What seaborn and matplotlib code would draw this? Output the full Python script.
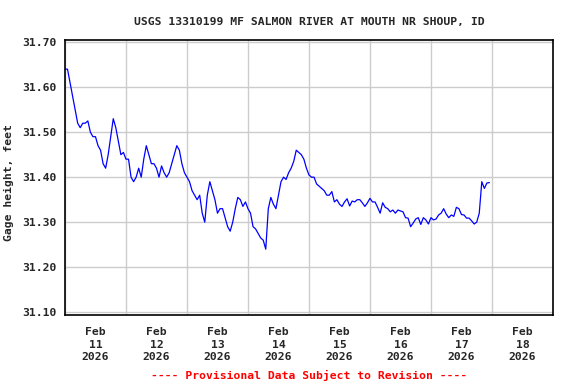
import pandas as pd
import matplotlib
matplotlib.use('Agg')
import matplotlib.pyplot as plt
import matplotlib.dates as mdates
import seaborn as sns

# hourly gage height readings (feet), starting Feb 11 2026 00:00
gage_height = [
    31.64, 31.64, 31.61, 31.58, 31.55, 31.52, 31.51, 31.52, 31.52, 31.525,
    31.50, 31.49, 31.49, 31.47, 31.46, 31.43, 31.42, 31.45, 31.49, 31.53,
    31.51, 31.48, 31.45, 31.455, 31.44, 31.44, 31.40, 31.39, 31.40, 31.42,
    31.40, 31.44, 31.47, 31.45, 31.43, 31.43, 31.42, 31.40, 31.425, 31.41,
    31.40, 31.41, 31.43, 31.45, 31.47, 31.46, 31.43, 31.41, 31.40, 31.39,
    31.37, 31.36, 31.35, 31.36, 31.32, 31.30, 31.36, 31.39, 31.37, 31.35,
    31.32, 31.33, 31.33, 31.31, 31.29, 31.28, 31.30, 31.33, 31.355, 31.35,
    31.335, 31.345, 31.33, 31.32, 31.29, 31.285, 31.275, 31.265, 31.26, 31.24,
    31.33, 31.355, 31.34, 31.33, 31.36, 31.39, 31.40, 31.395, 31.41, 31.42,
    31.435, 31.46, 31.455, 31.45, 31.44, 31.42, 31.405, 31.40, 31.40, 31.385,
    31.38, 31.375, 31.37, 31.36, 31.36, 31.368, 31.345, 31.35, 31.34, 31.335,
    31.345, 31.352, 31.336, 31.347, 31.345, 31.35, 31.35, 31.343, 31.335, 31.343,
    31.353, 31.345, 31.345, 31.333, 31.32, 31.343, 31.333, 31.33, 31.323, 31.327,
    31.32, 31.327, 31.325, 31.323, 31.31, 31.309, 31.29, 31.298, 31.307, 31.31,
    31.295, 31.31, 31.305, 31.296, 31.31, 31.305, 31.307, 31.316, 31.32, 31.33,
    31.318, 31.31, 31.316, 31.313, 31.333, 31.33, 31.317, 31.316, 31.309, 31.309,
    31.303, 31.296, 31.30, 31.32, 31.39, 31.375, 31.387, 31.388,
]
start_time = '2026-02-11 00:00'
y_ticks = [31.10, 31.20, 31.30, 31.40, 31.50, 31.60, 31.70]

df = pd.DataFrame({
    'time': pd.date_range(start_time, periods=len(gage_height), freq='h'),
    'gage': gage_height,
})

sns.set_style('white')
plt.rcParams['font.family'] = ['DejaVu Sans Mono']
plt.rcParams['font.weight'] = 'bold'

fig = plt.figure(figsize=(5.76, 3.84), dpi=100)
ax = fig.add_axes([0.1128, 0.180, 0.8472, 0.716])

sns.lineplot(data=df, x='time', y='gage', color='#0000ff', linewidth=0.9, ax=ax)

ax.set_xlim(pd.Timestamp('2026-02-11'), pd.Timestamp('2026-02-19'))
ax.set_ylim(31.094, 31.705)
ax.set_yticks(y_ticks)
ax.set_yticklabels([f'{v:.2f}' for v in y_ticks], fontsize=8.2, fontweight='bold')

ax.xaxis.set_major_locator(mdates.HourLocator(byhour=12))
ax.xaxis.set_major_formatter(mdates.DateFormatter('%b\n%d\n%Y'))
ax.xaxis.set_minor_locator(mdates.DayLocator())
for lbl in ax.get_xticklabels():
    lbl.set_fontsize(8.2)
    lbl.set_fontweight('bold')
    lbl.set_linespacing(1.3)

ax.tick_params(axis='y', which='both', length=0, pad=6)
ax.tick_params(axis='x', which='both', length=0, pad=9)
ax.grid(False)
ax.grid(True, axis='y', which='major', color='#cccccc', linewidth=1)
ax.grid(True, axis='x', which='minor', color='#cccccc', linewidth=1)
ax.set_axisbelow(True)

for sp in ax.spines.values():
    sp.set_color('black')
    sp.set_linewidth(1.2)

ax.set_xlabel('')
ax.set_ylabel('Gage height, feet', fontsize=8.2, fontweight='bold')
ax.yaxis.set_label_coords(-0.104, 0.48)
ax.set_title('USGS 13310199 MF SALMON RIVER AT MOUTH NR SHOUP, ID',
             fontsize=8.2, fontweight='bold', pad=11)
fig.text(0.536, 0.012, '---- Provisional Data Subject to Revision ----',
         color='red', ha='center', fontsize=8.2, fontweight='bold')

fig.savefig('out.png', dpi=100)
